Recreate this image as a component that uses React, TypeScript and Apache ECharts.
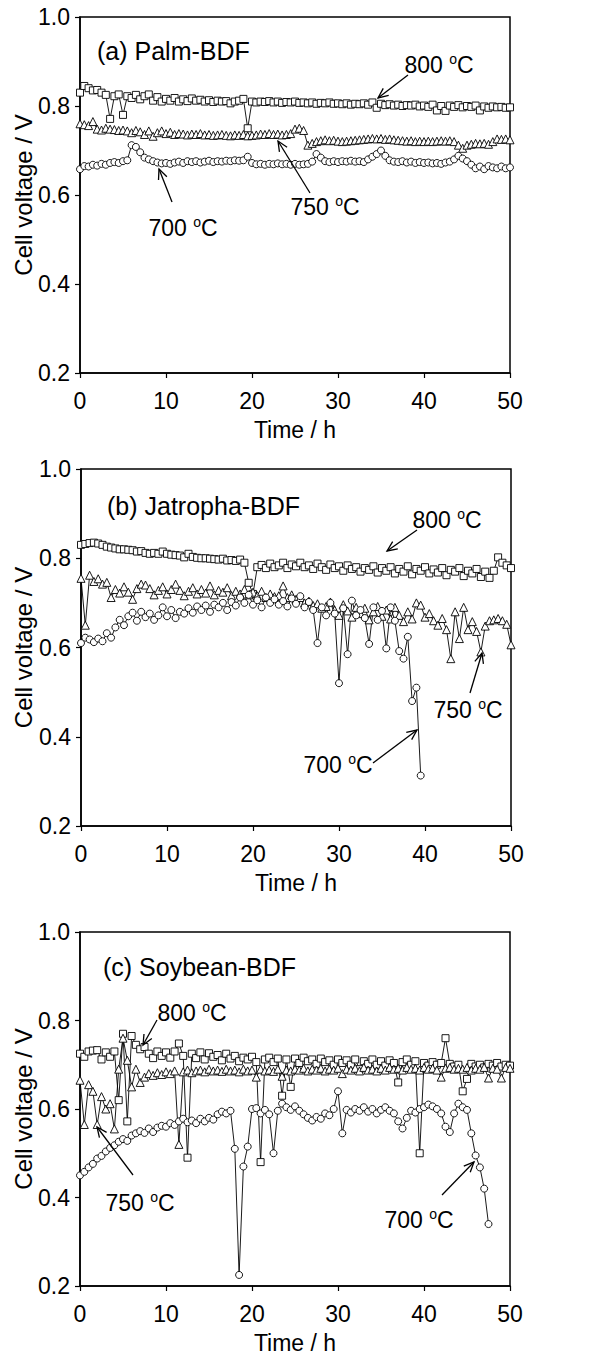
import React, { useEffect, useRef } from "react";
import * as echarts from "echarts";

// time step of the logged data (h)
const STEP = 0.5;

// ---- (a) Palm-BDF ----
const palm800 = [
  0.830, 0.845, 0.840, 0.835, 0.836, 0.830, 0.825, 0.771, 0.822, 0.826,
  0.780, 0.822, 0.818, 0.825, 0.815, 0.822, 0.826, 0.812, 0.820, 0.810,
  0.816, 0.812, 0.818, 0.810, 0.815, 0.811, 0.817, 0.812, 0.814, 0.810,
  0.813, 0.809, 0.812, 0.810, 0.811, 0.806, 0.810, 0.812, 0.816, 0.750,
  0.810, 0.808, 0.810, 0.809, 0.811, 0.808, 0.810, 0.807, 0.809, 0.808,
  0.810, 0.807, 0.808, 0.806, 0.808, 0.805, 0.807, 0.806, 0.808, 0.805,
  0.806, 0.804, 0.806, 0.803, 0.805, 0.804, 0.806, 0.803, 0.808, 0.796,
  0.805, 0.802, 0.804, 0.801, 0.803, 0.800, 0.802, 0.801, 0.803, 0.799,
  0.801, 0.798, 0.803, 0.790, 0.800, 0.789, 0.801, 0.798, 0.802, 0.797,
  0.800, 0.798, 0.801, 0.790, 0.799, 0.796, 0.799, 0.797, 0.798, 0.796,
  0.797,
];
const palm750 = [
  0.760, 0.758, 0.756, 0.765, 0.748, 0.746, 0.750, 0.748, 0.747, 0.745,
  0.746, 0.744, 0.740, 0.745, 0.742, 0.736, 0.744, 0.732, 0.740, 0.744,
  0.738, 0.741, 0.736, 0.738, 0.737, 0.735, 0.737, 0.736, 0.738, 0.735,
  0.736, 0.734, 0.735, 0.736, 0.734, 0.733, 0.735, 0.734, 0.736, 0.733,
  0.734, 0.735, 0.737, 0.736, 0.738, 0.736, 0.737, 0.735, 0.736, 0.738,
  0.748, 0.750, 0.745, 0.712, 0.716, 0.720, 0.722, 0.724, 0.722, 0.723,
  0.721, 0.720, 0.721, 0.722, 0.723, 0.724, 0.725, 0.726, 0.727, 0.726,
  0.727, 0.725, 0.726, 0.724, 0.723, 0.722, 0.721, 0.722, 0.720, 0.721,
  0.720, 0.721, 0.720, 0.721, 0.722, 0.721, 0.722, 0.720, 0.712, 0.705,
  0.712, 0.714, 0.716, 0.715, 0.716, 0.714, 0.720, 0.726, 0.725, 0.726,
  0.724,
];
const palm700 = [
  0.658, 0.665, 0.664, 0.668, 0.666, 0.670, 0.668, 0.672, 0.674, 0.672,
  0.676, 0.678, 0.712, 0.708, 0.696, 0.684, 0.680, 0.676, 0.673, 0.671,
  0.672, 0.670, 0.673, 0.675, 0.672, 0.676, 0.674, 0.676, 0.673, 0.675,
  0.677, 0.674, 0.676, 0.675, 0.677, 0.676, 0.678, 0.677, 0.678, 0.686,
  0.672, 0.669, 0.670, 0.668, 0.670, 0.669, 0.671, 0.669, 0.670, 0.668,
  0.670, 0.668, 0.669, 0.670, 0.675, 0.692, 0.684, 0.676, 0.674, 0.676,
  0.674, 0.676, 0.675, 0.677, 0.675, 0.676, 0.674, 0.680, 0.686, 0.692,
  0.700, 0.688, 0.678, 0.675, 0.674, 0.676, 0.673, 0.675, 0.672, 0.674,
  0.672, 0.673, 0.671, 0.672, 0.670, 0.673, 0.675, 0.680, 0.688, 0.682,
  0.676, 0.668, 0.660, 0.664, 0.658, 0.665, 0.662, 0.660, 0.664, 0.660,
  0.662,
];

// ---- (b) Jatropha-BDF ----
const jat800 = [
  0.830, 0.832, 0.834, 0.835, 0.833, 0.830, 0.826, 0.824, 0.822, 0.820,
  0.820, 0.819, 0.818, 0.815, 0.816, 0.812, 0.810, 0.812, 0.810, 0.815,
  0.810, 0.808, 0.807, 0.806, 0.802, 0.810, 0.803, 0.801, 0.800, 0.800,
  0.799, 0.798, 0.797, 0.799, 0.795, 0.796, 0.794, 0.797, 0.790, 0.745,
  0.720, 0.780, 0.785, 0.778, 0.788, 0.780, 0.784, 0.790, 0.778, 0.786,
  0.782, 0.790, 0.780, 0.784, 0.776, 0.788, 0.780, 0.774, 0.786, 0.778,
  0.782, 0.772, 0.784, 0.776, 0.780, 0.770, 0.778, 0.774, 0.782, 0.768,
  0.778, 0.772, 0.780, 0.766, 0.776, 0.770, 0.782, 0.764, 0.776, 0.772,
  0.780, 0.766, 0.775, 0.768, 0.778, 0.762, 0.774, 0.770, 0.778, 0.760,
  0.772, 0.766, 0.776, 0.758, 0.770, 0.756, 0.772, 0.802, 0.790, 0.784,
  0.778,
];
const jat750 = [
  0.755, 0.650, 0.762, 0.748, 0.754, 0.742, 0.746, 0.712, 0.730, 0.722,
  0.736, 0.724, 0.708, 0.732, 0.742, 0.740, 0.732, 0.718, 0.728, 0.736,
  0.720, 0.730, 0.742, 0.728, 0.716, 0.726, 0.734, 0.720, 0.730, 0.722,
  0.738, 0.718, 0.728, 0.724, 0.734, 0.716, 0.726, 0.720, 0.730, 0.718,
  0.724, 0.716, 0.726, 0.712, 0.720, 0.714, 0.716, 0.738, 0.712, 0.718,
  0.708, 0.712, 0.700, 0.704, 0.694, 0.698, 0.688, 0.692, 0.702, 0.684,
  0.672, 0.696, 0.682, 0.668, 0.690, 0.676, 0.688, 0.662, 0.680, 0.692,
  0.670, 0.684, 0.664, 0.690, 0.672, 0.658, 0.680, 0.664, 0.700, 0.695,
  0.668, 0.676, 0.660, 0.650, 0.665, 0.640, 0.575, 0.680, 0.620, 0.690,
  0.640, 0.658, 0.636, 0.590, 0.648, 0.660, 0.662, 0.665, 0.660, 0.652,
  0.606,
];
const jat700 = [
  0.610, 0.622, 0.618, 0.612, 0.620, 0.614, 0.632, 0.622, 0.645, 0.662,
  0.650, 0.670, 0.678, 0.660, 0.680, 0.668, 0.676, 0.662, 0.672, 0.690,
  0.670, 0.684, 0.666, 0.680, 0.676, 0.688, 0.678, 0.692, 0.684, 0.694,
  0.680, 0.696, 0.690, 0.700, 0.684, 0.702, 0.694, 0.712, 0.700, 0.718,
  0.696, 0.706, 0.690, 0.712, 0.700, 0.708, 0.696, 0.704, 0.692, 0.710,
  0.698, 0.715, 0.690, 0.702, 0.684, 0.610, 0.690, 0.672, 0.700, 0.676,
  0.520, 0.688, 0.585, 0.705, 0.672, 0.684, 0.666, 0.608, 0.690, 0.662,
  0.682, 0.598, 0.690, 0.660, 0.592, 0.575, 0.624, 0.480, 0.510, 0.313,
];

// ---- (c) Soybean-BDF ----
const soy800 = [
  0.725, 0.718, 0.730, 0.732, 0.733, 0.712, 0.728, 0.718, 0.730, 0.620,
  0.770, 0.572, 0.765, 0.745, 0.735, 0.740, 0.725, 0.715, 0.730, 0.720,
  0.728, 0.716, 0.730, 0.748, 0.720, 0.490, 0.725, 0.715, 0.728, 0.712,
  0.726, 0.718, 0.722, 0.710, 0.725, 0.714, 0.720, 0.708, 0.716, 0.712,
  0.718, 0.706, 0.480, 0.712, 0.716, 0.706, 0.714, 0.630, 0.712, 0.650,
  0.714, 0.704, 0.716, 0.708, 0.712, 0.702, 0.714, 0.706, 0.710, 0.700,
  0.712, 0.704, 0.710, 0.700, 0.712, 0.690, 0.708, 0.702, 0.712, 0.700,
  0.708, 0.698, 0.710, 0.704, 0.660, 0.706, 0.712, 0.700, 0.708, 0.500,
  0.704, 0.698, 0.706, 0.700, 0.704, 0.760, 0.702, 0.696, 0.700, 0.640,
  0.668, 0.702, 0.696, 0.700, 0.694, 0.702, 0.698, 0.704, 0.696, 0.700,
  0.698,
];
const soy750 = [
  0.665, 0.565, 0.655, 0.640, 0.565, 0.628, 0.600, 0.612, 0.555, 0.690,
  0.760, 0.710, 0.650, 0.690, 0.660, 0.672, 0.680, 0.676, 0.682, 0.678,
  0.684, 0.680, 0.686, 0.520, 0.684, 0.688, 0.682, 0.686, 0.688, 0.684,
  0.690, 0.686, 0.688, 0.685, 0.690, 0.686, 0.688, 0.684, 0.690, 0.686,
  0.688, 0.672, 0.690, 0.686, 0.688, 0.685, 0.690, 0.674, 0.688, 0.686,
  0.690, 0.688, 0.692, 0.686, 0.690, 0.688, 0.692, 0.686, 0.690, 0.688,
  0.692, 0.680, 0.690, 0.688, 0.692, 0.686, 0.694, 0.688, 0.690, 0.686,
  0.692, 0.688, 0.694, 0.690, 0.692, 0.688, 0.694, 0.690, 0.692, 0.688,
  0.694, 0.690, 0.692, 0.688, 0.672, 0.692, 0.694, 0.690, 0.692, 0.690,
  0.694, 0.688, 0.692, 0.690, 0.694, 0.670, 0.692, 0.690, 0.670, 0.694,
  0.692,
];
const soy700 = [
  0.450, 0.458, 0.468, 0.476, 0.488, 0.494, 0.504, 0.512, 0.518, 0.526,
  0.532, 0.528, 0.540, 0.545, 0.550, 0.546, 0.556, 0.548, 0.558, 0.562,
  0.560, 0.568, 0.564, 0.572, 0.578, 0.570, 0.574, 0.568, 0.578, 0.572,
  0.580, 0.576, 0.588, 0.594, 0.590, 0.596, 0.510, 0.225, 0.470, 0.515,
  0.600, 0.602, 0.590, 0.598, 0.588, 0.500, 0.596, 0.612, 0.604, 0.598,
  0.606, 0.596, 0.588, 0.580, 0.574, 0.582, 0.578, 0.590, 0.586, 0.600,
  0.640, 0.545, 0.598, 0.592, 0.600, 0.596, 0.604, 0.594, 0.600, 0.590,
  0.598, 0.604, 0.596, 0.590, 0.572, 0.556, 0.580, 0.596, 0.592, 0.600,
  0.604, 0.610, 0.606, 0.600, 0.590, 0.560, 0.548, 0.590, 0.612, 0.604,
  0.598, 0.545, 0.495, 0.468, 0.420, 0.340,
];

const xTicks = [0, 10, 20, 30, 40, 50];
const yTicks = ["0.2", "0.4", "0.6", "0.8", "1.0"];

const panelTitles = ["(a) Palm-BDF", "(b) Jatropha-BDF", "(c) Soybean-BDF"];
const panels = [
  { s800: palm800, s750: palm750, s700: palm700 },
  { s800: jat800, s750: jat750, s700: jat700 },
  { s800: soy800, s750: soy750, s700: soy700 },
];

const FONT = "'Liberation Sans', Arial, Helvetica, sans-serif";

// layout (px)
const GRIDS = [
  { left: 80, top: 17, width: 430, height: 356 },
  { left: 81, top: 469, width: 430, height: 357 },
  { left: 80, top: 932, width: 430, height: 354 },
];
const TITLE_POS = [
  [97, 51],
  [107, 506],
  [103, 967],
];
// [text, text x, text y, arrow from x, y, arrow to x, y]
const ANNOT: Array<Array<[string, number, number, number, number, number, number]>> = [
  [
    ["800", 439, 65, 408, 75, 378, 98],
    ["750", 325, 207, 310, 193, 278, 141],
    ["700", 183, 228, 172, 202, 159, 169],
  ],
  [
    ["800", 447, 520, 417, 530, 387, 551],
    ["750", 468, 710, 470, 693, 482, 653],
    ["700", 338, 765, 373, 763, 417, 730],
  ],
  [
    ["800", 192, 1013, 157, 1020, 143, 1045],
    ["750", 140, 1203, 133, 1175, 97, 1127],
    ["700", 419, 1220, 442, 1195, 474, 1162],
  ],
];

function toPairs(vals: number[]) {
  return vals.map((v, i) => [i * STEP, v]);
}

function arrow(x1: number, y1: number, x2: number, y2: number) {
  const a = Math.atan2(y2 - y1, x2 - x1);
  const L = 11;
  const w = 0.42;
  const p1 = [x2 - L * Math.cos(a - w), y2 - L * Math.sin(a - w)];
  const p2 = [x2 - L * Math.cos(a + w), y2 - L * Math.sin(a + w)];
  return [
    { type: "line", shape: { x1, y1, x2, y2 }, style: { stroke: "#000", lineWidth: 1.3 }, silent: true },
    {
      type: "polyline",
      shape: { points: [p1, [x2, y2], p2] },
      style: { stroke: "#000", lineWidth: 1.3, fill: "none" },
      silent: true,
    },
  ];
}

export default function App() {
  const ref = useRef<HTMLDivElement>(null);
  useEffect(() => {
    if (!ref.current) return;
    const chart = echarts.init(ref.current, undefined, { renderer: "svg" });

    const grid: any[] = [];
    const xAxis: any[] = [];
    const yAxis: any[] = [];
    const series: any[] = [];
    const graphic: any[] = [];

    const mk = (name: string, idx: number, vals: number[], symbol: string, size: number) => ({
      name,
      type: "line",
      xAxisIndex: idx,
      yAxisIndex: idx,
      data: toPairs(vals),
      symbol,
      symbolSize: size,
      showSymbol: true,
      itemStyle: { color: "#fff", borderColor: "#000", borderWidth: 0.9 },
      lineStyle: { color: "#000", width: 0.9 },
      emphasis: { disabled: true },
      silent: true,
      z: 2,
    });

    GRIDS.forEach((g, i) => {
      grid.push({
        ...g,
        show: true,
        borderColor: "#000",
        borderWidth: 1.5,
        backgroundColor: "transparent",
        containLabel: false,
      });
      xAxis.push({
        gridIndex: i,
        type: "value",
        min: 0,
        max: 50,
        interval: 10,
        axisLine: { show: true, onZero: false, lineStyle: { color: "#000", width: 1.5 } },
        axisTick: { show: true, inside: false, length: 5, lineStyle: { color: "#000", width: 1.2 } },
        axisLabel: {
          color: "#000",
          fontSize: 23,
          fontFamily: FONT,
          margin: 16,
          formatter: (v: number) => (xTicks.includes(v) ? String(v) : ""),
        },
        splitLine: { show: false },
      });
      yAxis.push({
        gridIndex: i,
        type: "value",
        min: 0.2,
        max: 1.0,
        interval: 0.2,
        axisLine: { show: true, onZero: false, lineStyle: { color: "#000", width: 1.5 } },
        axisTick: { show: true, inside: false, length: 5, lineStyle: { color: "#000", width: 1.2 } },
        axisLabel: {
          color: "#000",
          fontSize: 23,
          fontFamily: FONT,
          margin: 10,
          formatter: (v: number) => {
            const s = v.toFixed(1);
            return yTicks.includes(s) ? s : "";
          },
        },
        splitLine: { show: false },
      });

      const p = panels[i];
      series.push(mk("800 oC", i, p.s800, "rect", 7));
      series.push(mk("750 oC", i, p.s750, "triangle", 8));
      series.push(mk("700 oC", i, p.s700, "circle", 7));

      // axis titles
      graphic.push({
        type: "text",
        x: g.left + g.width / 2,
        y: g.top + g.height + 57,
        style: {
          text: "Time / h",
          fill: "#000",
          fontSize: 23,
          fontFamily: FONT,
          align: "center",
          verticalAlign: "middle",
        },
        silent: true,
      });
      graphic.push({
        type: "text",
        x: 23,
        y: g.top + g.height / 2,
        rotation: Math.PI / 2,
        style: {
          text: "Cell voltage / V",
          fill: "#000",
          fontSize: 24,
          fontFamily: FONT,
          align: "center",
          verticalAlign: "middle",
        },
        silent: true,
      });
      // panel title
      graphic.push({
        type: "text",
        x: TITLE_POS[i][0],
        y: TITLE_POS[i][1],
        style: {
          text: panelTitles[i],
          fill: "#000",
          fontSize: 25,
          fontFamily: FONT,
          align: "left",
          verticalAlign: "middle",
        },
        silent: true,
      });
      // temperature annotations
      ANNOT[i].forEach(([t, tx, ty, ax1, ay1, ax2, ay2]) => {
        graphic.push({
          type: "text",
          x: tx,
          y: ty,
          style: {
            text: `{n|${t} }{s|o}{n|C}`,
            fill: "#000",
            fontFamily: FONT,
            align: "center",
            verticalAlign: "middle",
            rich: {
              n: { fontSize: 23, fontFamily: FONT, fill: "#000", lineHeight: 26, verticalAlign: "middle" },
              s: { fontSize: 14, fontFamily: FONT, fill: "#000", lineHeight: 26, verticalAlign: "top" },
            },
          },
          silent: true,
          z: 10,
        });
        arrow(ax1, ay1, ax2, ay2).forEach((el) => graphic.push({ ...el, z: 10 }));
      });
    });

    chart.setOption({
      animation: false,
      backgroundColor: "#fff",
      grid,
      xAxis,
      yAxis,
      series,
      graphic,
    });
    return () => chart.dispose();
  }, []);

  return (
    <div
      ref={ref}
      style={{ position: "absolute", left: 0, top: 0, width: 616, height: 1358 }}
    />
  );
}
